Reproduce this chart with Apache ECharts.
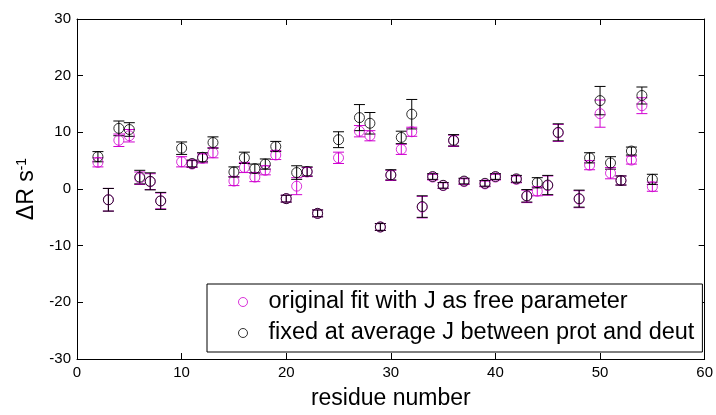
<!DOCTYPE html>
<html>
<head>
<meta charset="utf-8">
<script src="https://cdn.jsdelivr.net/npm/echarts@6/dist/echarts.min.js"></script>
<style>html,body{margin:0;padding:0;background:#fff;}#c{width:716px;height:415px;}</style>
</head>
<body>
<div id="c"></div>
<script>
const residues = [2,3,4,5,6,7,8,10,11,12,13,15,16,17,18,19,20,21,22,23,25,27,28,29,30,31,32,33,34,35,36,37,39,40,42,43,44,45,46,48,49,50,51,52,53,54,55];
const origVals = [4.7,-1.9,8.6,9.4,1.9,1.3,-2.1,4.8,4.4,5.4,6.4,1.4,3.8,2.1,3.3,6.0,-1.7,0.5,3.0,-4.3,5.5,10.2,9.4,-6.7,2.4,7.0,10.1,-3.2,2.1,0.6,8.5,1.3,0.9,2.1,1.7,-1.3,-0.4,0.6,9.9,-1.8,4.2,13.3,2.8,1.5,5.1,14.7,0.4];
const origErr = [0.8,2.0,1.1,1.1,1.1,1.4,1.4,0.9,0.6,0.8,0.9,0.8,0.9,0.8,0.8,0.8,0.6,1.5,0.8,0.6,1.0,1.0,0.9,0.6,0.9,0.9,0.8,1.9,0.5,0.5,1.0,0.5,0.5,0.5,0.6,1.1,0.8,1.7,1.5,1.5,0.8,2.4,1.0,0.8,0.7,1.4,0.8];
const fixedVals = [5.7,-1.9,10.7,10.5,2.1,1.35,-2.1,7.2,4.5,5.6,8.2,3.0,5.5,3.6,4.4,7.5,-1.7,2.9,3.1,-4.3,8.7,12.6,11.6,-6.7,2.5,9.1,13.2,-3.1,2.2,0.65,8.6,1.4,1.0,2.2,1.8,-1.2,1.1,0.7,10.0,-1.7,5.5,15.6,4.6,1.5,6.7,16.5,1.7];
const fixedErr = [0.9,2.0,1.3,1.2,1.2,1.5,1.5,1.1,0.6,0.8,1.0,0.9,1.0,0.8,0.9,0.9,0.6,1.2,0.8,0.6,1.4,2.3,1.9,0.6,0.9,1.1,2.6,1.9,0.5,0.5,1.0,0.5,0.5,0.5,0.6,1.1,0.9,1.7,1.5,1.5,0.9,2.5,1.1,0.8,0.7,1.5,0.9];
const xTicks = [0,10,20,30,40,50,60];
const yTicks = [-30,-20,-10,0,10,20,30];
const seriesNames = ['original fit with J as free parameter','fixed at average J between prot and deut'];

const MAG = '#d000d0', BLK = '#000000';
const FONT = 'Liberation Sans, Arial, sans-serif';

function errSeries(vals, errs, color) {
  return {
    type: 'custom',
    xAxisIndex: 0, yAxisIndex: 0,
    silent: true,
    data: residues.map((r, i) => [r, vals[i], errs[i]]),
    encode: {x: 0, y: 1},
    renderItem: function (params, api) {
      const x = api.value(0), y = api.value(1), e = api.value(2);
      const t = api.coord([x, y + e]), b = api.coord([x, y - e]);
      const hw = 5.5;
      const st = {stroke: color, lineWidth: 1};
      return {type: 'group', children: [
        {type: 'line', shape: {x1: t[0], y1: t[1], x2: b[0], y2: b[1]}, style: st},
        {type: 'line', shape: {x1: t[0] - hw, y1: t[1], x2: t[0] + hw, y2: t[1]}, style: st},
        {type: 'line', shape: {x1: b[0] - hw, y1: b[1], x2: b[0] + hw, y2: b[1]}, style: st}
      ]};
    },
    z: 2
  };
}
function ptSeries(name, vals, color) {
  return {
    type: 'scatter', name: name,
    xAxisIndex: 0, yAxisIndex: 0,
    data: residues.map((r, i) => [r, vals[i]]),
    symbol: 'circle', symbolSize: 10,
    itemStyle: {color: 'rgba(0,0,0,0)', borderColor: color, borderWidth: 1},
    z: 3
  };
}
const axisCommon = {
  type: 'value', interval: 10,
  axisLine: {show: true, onZero: false, lineStyle: {color: '#000', width: 1}},
  axisTick: {show: true, inside: true, length: 6, lineStyle: {color: '#000'}},
  splitLine: {show: false}
};

const chart = echarts.init(document.getElementById('c'), null, {renderer: 'canvas'});
chart.setOption({
  animation: false,
  backgroundColor: '#fff',
  textStyle: {fontFamily: FONT},
  grid: {left: 77, right: 10, top: 19, bottom: 48, containLabel: false},
  xAxis: [
    Object.assign({}, axisCommon, {
      position: 'bottom', min: xTicks[0], max: xTicks[xTicks.length - 1],
      axisLabel: {color: '#000', fontSize: 15, margin: 6, fontFamily: FONT},
      name: 'residue number', nameLocation: 'middle', nameGap: 28,
      nameTextStyle: {color: '#000', fontSize: 23, fontFamily: FONT}
    }),
    Object.assign({}, axisCommon, {
      position: 'top', min: xTicks[0], max: xTicks[xTicks.length - 1],
      axisLabel: {show: false}
    })
  ],
  yAxis: [
    Object.assign({}, axisCommon, {
      position: 'left', min: yTicks[0], max: yTicks[yTicks.length - 1],
      axisLabel: {color: '#000', fontSize: 15, margin: 6, fontFamily: FONT},
      name: '{a|ΔR s}{s|-1}', nameLocation: 'middle', nameGap: 32,
      nameTextStyle: {
        color: '#000', fontSize: 23, fontFamily: FONT,
        rich: {
          a: {fontSize: 23, color: '#000', fontFamily: FONT},
          s: {fontSize: 14, color: '#000', fontFamily: FONT, verticalAlign: 'top', padding: [0, 0, 10, 0]}
        }
      }
    }),
    Object.assign({}, axisCommon, {
      position: 'right', min: yTicks[0], max: yTicks[yTicks.length - 1],
      axisLabel: {show: false}
    })
  ],
  legend: {
    data: seriesNames,
    orient: 'vertical',
    left: 207, top: 284,
    padding: [6, 8, 7, 31],
    itemGap: 7,
    itemWidth: 9, itemHeight: 9,
    itemStyle: {borderWidth: 1},
    backgroundColor: '#fff',
    borderColor: '#000', borderWidth: 1, borderRadius: 0,
    textStyle: {color: '#000', fontSize: 23.5, lineHeight: 24, fontFamily: FONT, padding: [0, 0, 0, 16]},
    selectedMode: false
  },
  series: [
    errSeries(origVals, origErr, MAG),
    ptSeries(seriesNames[0], origVals, MAG),
    errSeries(fixedVals, fixedErr, BLK),
    ptSeries(seriesNames[1], fixedVals, BLK)
  ]
});
</script>
</body>
</html>
